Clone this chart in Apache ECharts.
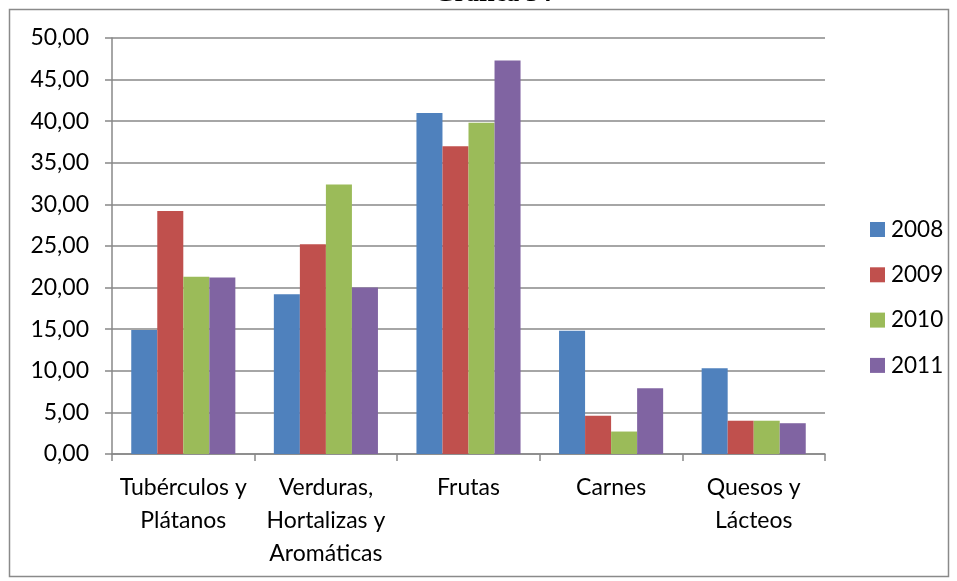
<!DOCTYPE html>
<html><head><meta charset="utf-8">
<script src="https://cdn.jsdelivr.net/npm/echarts@6/dist/echarts.min.js"></script>
<style>html,body{margin:0;padding:0;background:#fff}#c{width:957px;height:581px}</style>
</head><body><div id="c"></div>
<script>
const categories = ['Tubérculos y\nPlátanos', 'Verduras,\nHortalizas y\nAromáticas', 'Frutas', 'Carnes', 'Quesos y\nLácteos'];
const seriesNames = ['2008', '2009', '2010', '2011'];
const v2008 = [14.9, 19.2, 41.0, 14.8, 10.3];
const v2009 = [29.2, 25.2, 37.0, 4.6, 4.0];
const v2010 = [21.3, 32.4, 39.8, 2.7, 4.0];
const v2011 = [21.2, 20.0, 47.3, 7.9, 3.7];
const colors = ['#4F81BD', '#C0504D', '#9BBB59', '#8064A2'];
const values = [v2008, v2009, v2010, v2011];
const font = 'Lato';
const chart = echarts.init(document.getElementById('c'));
chart.setOption({
  animation: false,
  color: colors,
  graphic: [
    {type: 'rect', shape: {x: 9.5, y: 9.5, width: 939, height: 567}, style: {fill: 'none', stroke: '#8a8a8a', lineWidth: 1.5}},
    {type: 'text', style: {text: 'Gráfica 34', font: 'bold 26px "Liberation Serif"', fill: '#000', x: 493, y: -6, align: 'center', verticalAlign: 'middle'}}
  ],
  grid: {left: 112, right: 132, top: 38, bottom: 127},
  legend: {
    orient: 'vertical', left: 865, top: 213, itemWidth: 15, itemHeight: 15, itemGap: 22.3,
    icon: 'rect', data: seriesNames,
    textStyle: {fontFamily: font, fontSize: 22.5, color: '#000', padding: [0, 0, 0, 1]}
  },
  xAxis: {
    type: 'category', data: categories,
    axisLine: {lineStyle: {color: '#888', width: 1.5}},
    axisTick: {show: true, length: 7, lineStyle: {color: '#888', width: 1.5}, alignWithLabel: false},
    axisLabel: {fontFamily: font, fontSize: 23, color: '#000', margin: 17, lineHeight: 33, interval: 0}
  },
  yAxis: {
    type: 'value', min: 0, max: 50, interval: 5,
    axisLine: {show: true, lineStyle: {color: '#888', width: 1.5}},
    axisTick: {show: true, length: 7, lineStyle: {color: '#888', width: 1.5}},
    splitLine: {lineStyle: {color: '#888', width: 1.5}},
    axisLabel: {fontFamily: font, fontSize: 23, color: '#000', margin: 23,
      formatter: v => v.toFixed(2).replace('.', ',')}
  },
  series: seriesNames.map((n, i) => ({
    name: n, type: 'bar', data: values[i], barGap: '0%', barCategoryGap: '27%',
    itemStyle: {color: colors[i]}
  }))
});
</script></body></html>
